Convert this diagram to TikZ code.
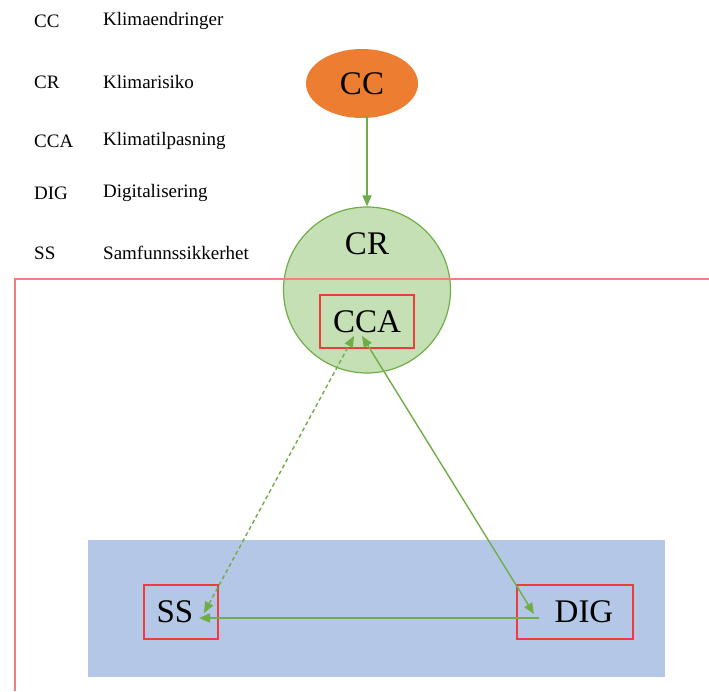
\documentclass[tikz,border=0pt]{standalone}
\usepackage{fontspec}
\setmainfont{Liberation Serif}
\usetikzlibrary{arrows.meta,shapes.geometric}
\definecolor{ccorange}{HTML}{ED7D31}
\definecolor{crfill}{HTML}{C5E0B4}
\definecolor{gline}{HTML}{70AD47}
\definecolor{bluefill}{HTML}{B4C7E7}
\definecolor{redline}{HTML}{EE3B3B}
\definecolor{framered}{HTML}{F08080}
\tikzset{
  legend/.style={anchor=west,font=\fontsize{19}{22}\selectfont,inner sep=0pt},
  redbox/.style={draw=redline,line width=1.3pt,inner sep=0pt},
  big/.style={font=\fontsize{33}{36}\selectfont},
  garrow/.style={draw=gline,line width=1.4pt,-{Triangle[length=11pt,width=9pt]}},
  gdouble/.style={draw=gline,line width=1.4pt,{Triangle[length=11pt,width=9pt]}-{Triangle[length=11pt,width=9pt]}}
}
\begin{document}
\begin{tikzpicture}[x=1pt,y=-1pt]
\useasboundingbox (0,0) rectangle (709,691);
% legend
\node[legend] (l1a) at (34,21) {CC};
\node[legend] (l1b) at (103,21) {Klimaendringer};
\node[legend] (l2a) at (34,82) {CR};
\node[legend] (l2b) at (103,82) {Klimarisiko};
\node[legend] (l3a) at (34,141) {CCA};
\node[legend] (l3b) at (103,141) {Klimatilpasning};
\node[legend] (l4a) at (34,193) {DIG};
\node[legend] (l4b) at (103,193) {Digitalisering};
\node[legend] (l5a) at (34,253) {SS};
\node[legend] (l5b) at (103,253) {Samfunnssikkerhet};
% blue region
\node[fill=bluefill,minimum width=577pt,minimum height=137pt,inner sep=0pt] (blue) at (376.5,608.5) {};
% CR circle
\node[ellipse,draw=gline,line width=1.2pt,fill=crfill,minimum width=167pt,minimum height=166pt,inner sep=0pt] (cr) at (367,290) {};
\node[big] (crtext) at (367,244) {CR};
% red frame
\coordinate (fa) at (15,691);
\coordinate (fb) at (15,279);
\coordinate (fc) at (709,279);
\draw[framered,line width=1.5pt] (fa) -- (fb) -- (fc);
% CC ellipse
\node[ellipse,fill=ccorange,minimum width=112pt,minimum height=69pt,inner sep=0pt,big] (cc) at (362,83.5) {CC};
% boxes
\node[redbox,minimum width=94pt,minimum height=53pt,big] (cca) at (367,321.5) {CCA};
\node[redbox,minimum width=74pt,minimum height=54pt] (ss) at (181,612) {};
\node[big] (sstext) at (175,612) {SS};
\node[redbox,minimum width=116pt,minimum height=54pt] (dig) at (575,612) {};
\node[big] (digtext) at (584,612) {DIG};
% arrows
\coordinate (ccbot) at (367,116);
\coordinate (ccaL) at (354,336);
\coordinate (ccaR) at (362,336);
\coordinate (ssR) at (199,618);
\coordinate (ssT) at (204,613);
\coordinate (digL) at (539,618);
\coordinate (digT) at (534,614);
\draw[garrow] (ccbot) -- (cr.north);
\draw[gdouble,dashed,dash pattern=on 4pt off 3pt] (ssT) -- (ccaL);
\draw[gdouble] (digT) -- (ccaR);
\draw[garrow] (digL) -- (ssR);
\end{tikzpicture}
\end{document}
